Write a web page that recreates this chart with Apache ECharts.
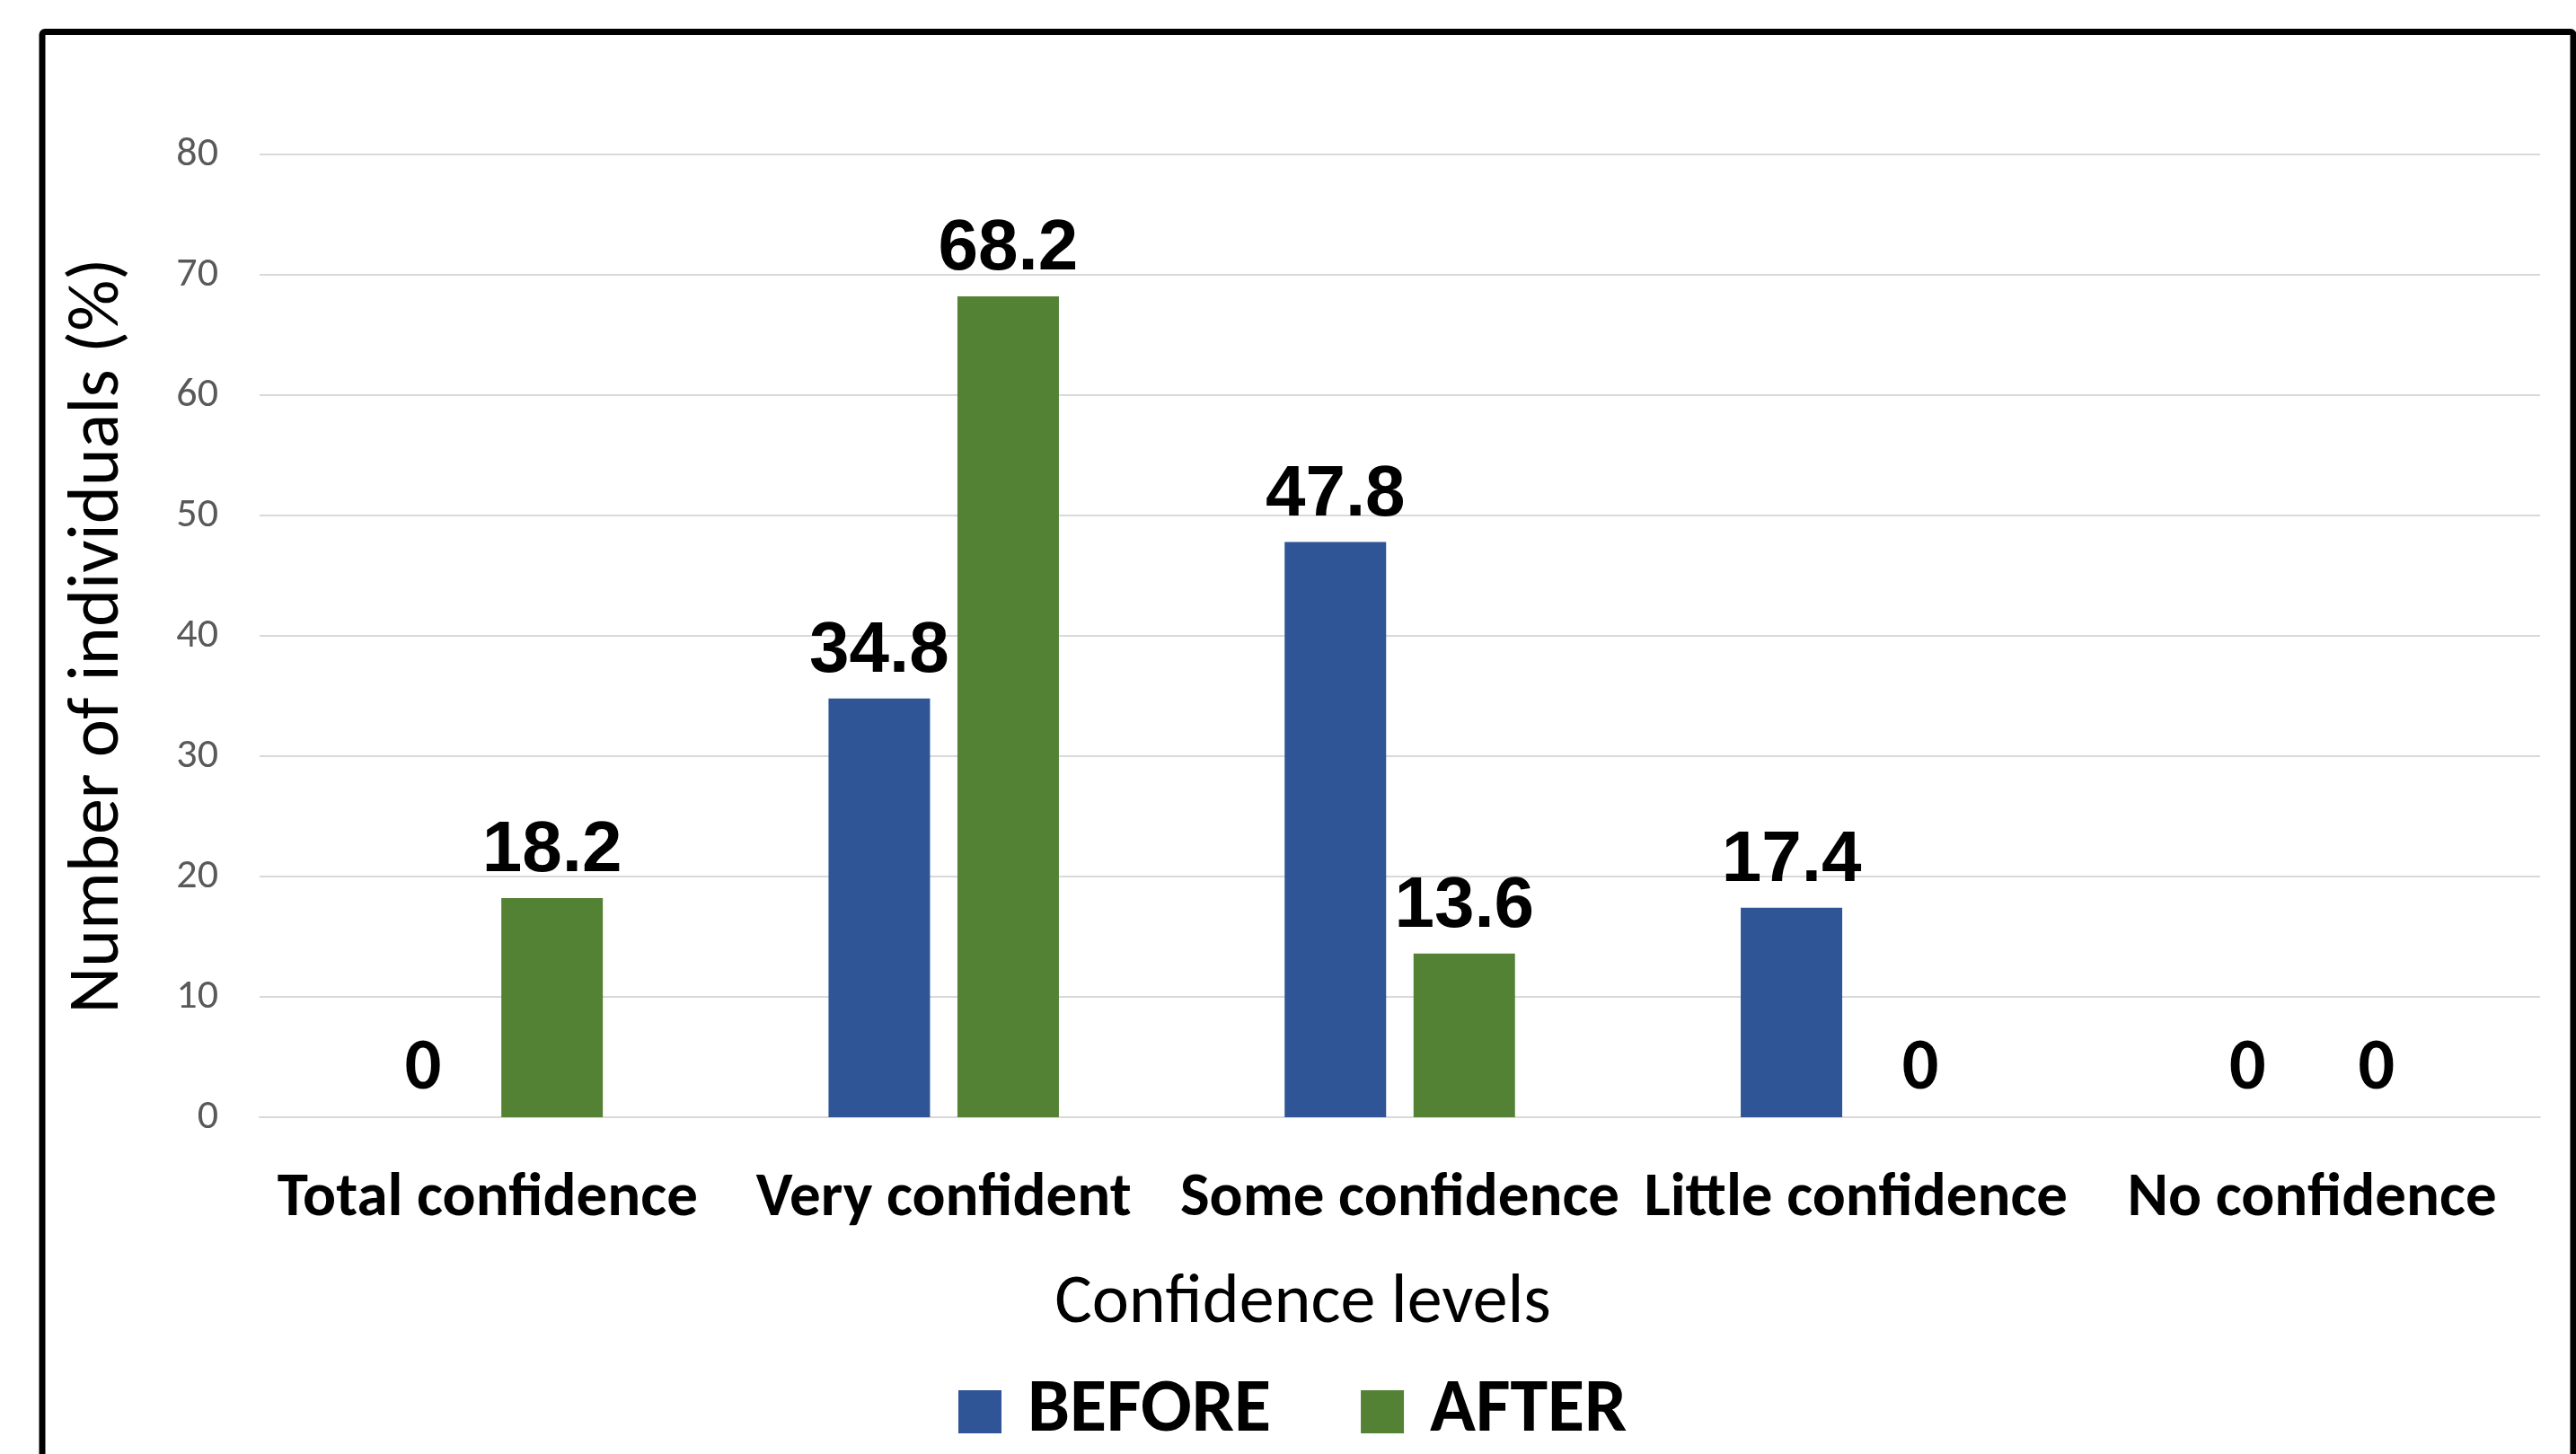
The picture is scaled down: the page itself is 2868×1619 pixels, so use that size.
<!DOCTYPE html>
<html>
<head>
  <meta charset="utf-8" />
  <title>Confidence levels</title>
  <script src="https://cdn.jsdelivr.net/npm/echarts@6/dist/echarts.min.js"></script>
  <style>
    html, body { margin: 0; padding: 0; background: #fff; }
    #main { width: 2868px; height: 1619px; }
  </style>
</head>
<body>
  <div id="main"></div>
  <script type="text/javascript">
    var categories = ['Total confidence', 'Very confident', 'Some confidence', 'Little confidence', 'No confidence'];
    var seriesNames = ['BEFORE', 'AFTER'];
    var beforeValues = [0, 34.8, 47.8, 17.4, 0];
    var afterValues = [18.2, 68.2, 13.6, 0, 0];
    var yTicks = { min: 0, max: 80, interval: 10 };

    var CAL = "Carlito, Lato, sans-serif";
    var ARIAL = "'Liberation Sans', Arial, sans-serif";
    var colors = ['#2F5597', '#548235'];

    // zero labels in the source use a different (Calibri-like) face
    var zeroLabel = { fontFamily: CAL, fontSize: 80 };
    function toData(arr) {
        return arr.map(function (v) {
            return v === 0 ? { value: v, label: zeroLabel } : v;
        });
    }

    var valueLabel = {
        show: true, position: 'top', distance: 12,
        fontFamily: ARIAL, fontWeight: 'bold', fontSize: 80, color: '#000'
    };

    var myChart = echarts.init(document.getElementById('main'), null, { renderer: 'canvas' });
    var option = {
        animation: false,
        backgroundColor: '#fff',
        color: colors,
        grid: { left: 289, right: 40, top: 172, bottom: 375 },
        legend: {
            data: seriesNames,
            left: 1062, top: 1525,
            icon: 'rect', itemWidth: 48, itemHeight: 48, itemGap: 100,
            textStyle: { fontFamily: CAL, fontWeight: 'bold', fontSize: 84, lineHeight: 84, color: '#000', padding: [0, 0, 0, 24] }
        },
        xAxis: {
            type: 'category',
            data: categories,
            name: 'Confidence levels',
            nameLocation: 'middle',
            nameGap: 169,
            nameTextStyle: { fontFamily: CAL, fontSize: 78, color: '#000', padding: [0, 216, 0, 0] },
            axisLine: { show: true, lineStyle: { color: '#D9D9D9', width: 2 } },
            axisTick: { show: false },
            axisLabel: { interval: 0, margin: 57, fontFamily: CAL, fontWeight: 'bold', fontSize: 69, color: '#000' }
        },
        yAxis: {
            type: 'value',
            min: yTicks.min, max: yTicks.max, interval: yTicks.interval,
            name: 'Number of individuals (%)',
            nameLocation: 'middle',
            nameGap: 138,
            nameTextStyle: { fontFamily: CAL, fontSize: 80, color: '#000' },
            axisLine: { show: false },
            axisTick: { show: false },
            axisLabel: { margin: 46, fontFamily: CAL, fontSize: 46, color: '#595959' },
            splitLine: { lineStyle: { color: '#D9D9D9', width: 2 } }
        },
        series: [
            { name: seriesNames[0], type: 'bar', data: toData(beforeValues), barWidth: 113, barGap: '27%', label: valueLabel },
            { name: seriesNames[1], type: 'bar', data: toData(afterValues), barWidth: 113, barGap: '27%', label: valueLabel }
        ],
        graphic: [{
            type: 'rect',
            shape: { x: 47, y: 35.5, width: 2818, height: 1700, r: 3 },
            style: { fill: 'none', stroke: '#000', lineWidth: 7 },
            silent: true
        }]
    };
    myChart.setOption(option);
  </script>
</body>
</html>
